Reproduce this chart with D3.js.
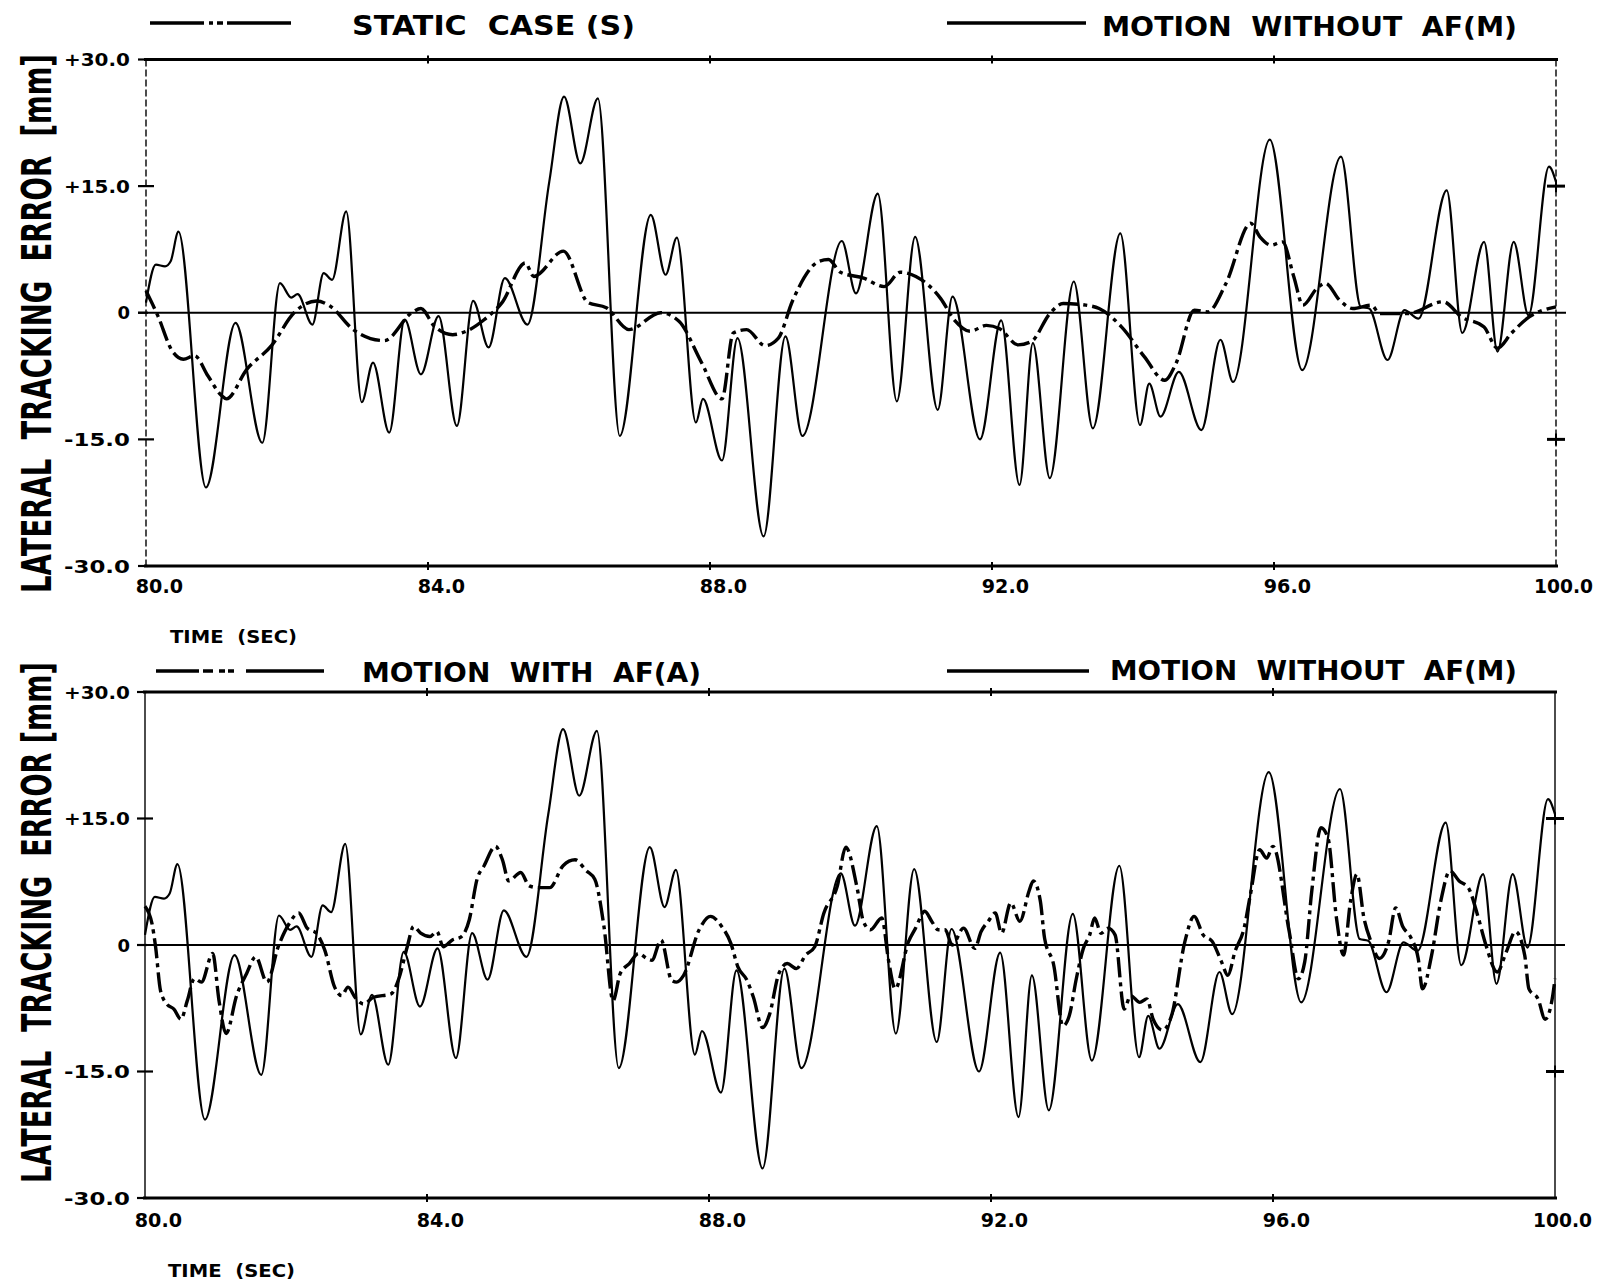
<!DOCTYPE html>
<html>
<head>
<meta charset="utf-8">
<script src="https://cdn.jsdelivr.net/npm/d3@7"></script>
<style>
  html, body { margin: 0; padding: 0; background: #fff; }
  text { font-family: "DejaVu Sans", "Liberation Sans", sans-serif; font-weight: 700; fill: #000; white-space: pre; }
</style>
</head>
<body>
<svg id="chart" width="1609" height="1282"></svg>
<script>
// tick labels
var timeTicks = [80, 84, 88, 92, 96, 100];
var timeLabels = ['80.0', '84.0', '88.0', '92.0', '96.0', '100.0'];
var errTicks = [30, 15, 0, -15, -30];
var errLabels = ['+30.0', '+15.0', '0', '-15.0', '-30.0'];

// motion without AF (M) - solid, same run in both panels
var mTime = [80.00, 80.14, 80.27, 80.35, 80.46, 80.85, 81.27, 81.65, 81.90, 82.06, 82.15, 82.36, 82.52, 82.64, 82.84,
  83.06, 83.22, 83.45, 83.67, 83.90, 84.15, 84.41, 84.64, 84.86, 85.09, 85.41, 85.72, 85.93, 86.16, 86.41,
  86.72, 87.16, 87.37, 87.53, 87.80, 87.90, 88.17, 88.39, 88.76, 89.07, 89.31, 89.87, 90.07, 90.38, 90.65,
  90.91, 91.23, 91.44, 91.83, 92.13, 92.39, 92.58, 92.82, 93.16, 93.43, 93.82, 94.10, 94.23, 94.39, 94.65,
  94.97, 95.24, 95.42, 95.94, 96.40, 96.95, 97.23, 97.35, 97.61, 97.85, 98.05, 98.45, 98.67, 98.98, 99.17,
  99.40, 99.61, 99.90, 100.0];
var mErr = [1.2, 5.7, 5.5, 6.1, 9.6, -20.7, -1.2, -15.4, 3.5, 1.8, 2.2, -1.4, 4.7, 3.9, 12.0,
  -10.6, -5.9, -14.2, -0.8, -7.3, -0.4, -13.4, 1.4, -4.1, 4.1, -1.4, 15.5, 25.6, 17.7, 25.4,
  -14.6, 11.6, 4.5, 8.9, -13.0, -10.2, -17.5, -3.0, -26.5, -2.8, -14.6, 8.5, 2.3, 14.1, -10.5,
  9.0, -11.5, 1.9, -15.0, -0.9, -20.4, -3.6, -19.6, 3.7, -13.7, 9.4, -13.3, -8.4, -12.3, -7.0,
  -13.9, -3.2, -8.2, 20.5, -6.8, 18.5, 0.7, 0.5, -5.6, 0.3, -0.7, 14.5, -2.4, 8.4, -4.6,
  8.4, -0.3, 17.3, 15.5];

// static case (S) - dashed, top panel
var sTime = [80.00, 80.17, 80.37, 80.53, 80.69, 80.88, 81.07, 81.14, 81.43, 81.78, 82.10, 82.42, 82.61, 82.94, 83.38,
  83.77, 83.90, 84.09, 84.35, 84.54, 84.80, 85.05, 85.38, 85.50, 85.92, 86.27, 86.53, 86.85, 87.30, 87.56,
  87.88, 88.17, 88.33, 88.52, 88.78, 88.97, 89.17, 89.55, 89.68, 89.85, 90.18, 90.47, 90.70, 90.92, 91.27,
  91.47, 91.69, 91.92, 92.11, 92.37, 92.56, 92.82, 93.01, 93.33, 93.52, 93.84, 94.16, 94.45, 94.61, 94.87,
  95.06, 95.32, 95.67, 95.80, 95.96, 96.12, 96.28, 96.41, 96.61, 96.73, 96.93, 97.12, 97.38, 97.50, 97.89,
  98.40, 98.66, 98.98, 99.17, 99.37, 99.62, 100.0];
var sErr = [2.6, -0.4, -4.5, -5.5, -5.1, -7.5, -9.8, -10.2, -6.7, -3.9, 0.0, 1.4, 0.8, -2.0, -3.3,
  0.0, 0.5, -1.6, -2.6, -2.2, -0.8, 1.2, 5.9, 4.3, 7.3, 1.2, 0.6, -2.0, 0.0, -1.0,
  -5.9, -10.2, -2.4, -2.0, -3.9, -3.0, 1.4, 6.1, 6.3, 4.8, 4.1, 3.1, 4.8, 4.3, 1.7,
  -0.9, -2.2, -1.5, -1.9, -3.8, -3.4, -0.1, 1.1, 0.9, 0.5, -1.7, -5.2, -8.0, -6.0, 0.3,
  0.1, 3.5, 10.6, 9.0, 8.0, 8.4, 4.3, 0.9, 2.9, 3.5, 1.5, 0.5, 0.9, -0.1, -0.1,
  1.3, -0.5, -1.7, -4.2, -2.4, -0.5, 0.7];

// motion with AF (A) - dashed, bottom panel
var aTime = [80.00, 80.10, 80.15, 80.22, 80.31, 80.41, 80.51, 80.60, 80.70, 80.80, 80.96, 81.05, 81.15, 81.30, 81.44,
  81.57, 81.73, 81.89, 82.05, 82.18, 82.30, 82.43, 82.55, 82.69, 82.79, 82.88, 82.98, 83.10, 83.24, 83.49,
  83.60, 83.72, 83.81, 83.91, 84.04, 84.14, 84.23, 84.36, 84.49, 84.60, 84.71, 84.81, 84.97, 85.07, 85.16,
  85.33, 85.45, 85.58, 85.74, 85.93, 86.10, 86.26, 86.38, 86.51, 86.64, 86.74, 86.87, 87.00, 87.12, 87.19,
  87.32, 87.47, 87.54, 87.64, 87.86, 88.02, 88.18, 88.31, 88.41, 88.54, 88.63, 88.76, 88.86, 88.99, 89.11,
  89.24, 89.37, 89.50, 89.63, 89.82, 89.94, 90.10, 90.19, 90.29, 90.45, 90.55, 90.64, 90.83, 90.93, 91.06,
  91.16, 91.25, 91.35, 91.45, 91.61, 91.77, 91.86, 91.96, 92.06, 92.15, 92.28, 92.41, 92.54, 92.60, 92.70,
  92.76, 92.89, 93.02, 93.11, 93.21, 93.31, 93.40, 93.47, 93.56, 93.66, 93.76, 93.89, 93.98, 94.11, 94.21,
  94.30, 94.43, 94.56, 94.75, 94.88, 95.01, 95.14, 95.27, 95.36, 95.46, 95.59, 95.68, 95.81, 95.91, 96.00,
  96.23, 96.36, 96.45, 96.55, 96.68, 96.78, 96.90, 97.00, 97.10, 97.19, 97.29, 97.39, 97.51, 97.64, 97.74,
  97.84, 97.96, 98.06, 98.12, 98.25, 98.38, 98.51, 98.64, 98.77, 98.90, 99.02, 99.18, 99.31, 99.44, 99.57,
  99.63, 99.76, 99.86, 99.96, 100.0];
var aErr = [4.6, 2.5, -0.2, -5.4, -7.0, -7.6, -8.8, -6.6, -4.0, -4.4, -1.0, -6.6, -10.5, -6.0, -3.4,
  -1.4, -4.4, -0.2, 2.6, 3.8, 2.0, 1.4, -0.6, -5.0, -6.0, -5.0, -6.2, -7.0, -6.2, -5.8,
  -4.0, -0.2, 2.2, 1.4, 1.0, 1.6, -0.2, 0.6, 1.0, 3.0, 7.8, 9.4, 11.7, 10.1, 7.6,
  8.6, 7.0, 6.8, 6.8, 9.4, 10.1, 8.8, 7.8, 2.2, -6.6, -3.4, -2.2, -1.0, -1.6, -1.8,
  0.6, -4.2, -4.4, -3.6, 1.8, 3.4, 2.2, 0.2, -2.6, -4.2, -6.2, -9.8, -8.2, -3.4, -2.2,
  -2.8, -1.2, -0.2, 3.8, 7.0, 11.6, 6.8, 2.8, 1.8, 3.2, -2.0, -5.2, 0.4, 2.0, 4.0,
  2.8, 1.8, 1.8, 0.0, 2.0, -0.4, 1.6, 2.8, 3.8, 1.4, 5.0, 2.8, 6.4, 7.6, 5.2,
  0.8, -2.4, -9.6, -8.4, -4.0, -0.4, 1.2, 3.2, 1.4, 2.0, 1.2, -7.6, -6.0, -6.8, -6.4,
  -8.8, -10.1, -8.4, 0.4, 3.4, 1.2, 0.4, -2.0, -3.6, -0.8, 2.0, 6.0, 11.3, 10.3, 11.7,
  1.6, -4.0, -2.0, 6.4, 13.9, 12.7, 3.2, -1.2, 5.2, 8.4, 3.2, 0.4, -1.6, 0.4, 4.4,
  2.2, 0.8, -1.6, -5.2, -1.2, 5.2, 8.8, 7.6, 6.8, 3.6, 0.0, -3.2, -0.8, 1.6, -1.2,
  -5.2, -6.4, -8.8, -6.4, -4.0];

var svg = d3.select('#chart');
svg.append('rect').attr('width', 1609).attr('height', 1282).attr('fill', '#fff');

function label(g, str, x, y, size, len, anchor) {
  var t = g.append('text').attr('x', x).attr('y', y).attr('font-size', size)
    .attr('text-anchor', anchor || 'start').text(str);
  if (len) t.attr('textLength', len).attr('lengthAdjust', 'spacingAndGlyphs');
  return t;
}

var panels = [
  { left: 146, right: 1556, top: 59.5, bottom: 566, frameDash: '7,3',
    dashT: sTime, dashV: sErr, dashName: 'STATIC  CASE (S)',
    leg: { y: 23, dashX: [150, 291], dashPattern: '54,5,4,4,6,4,70', textX: 352, textLen: 283, textY: 35,
           solidX: [947, 1086], solidTextX: 1102, solidLen: 415, solidY: 36 },
    timeY: 593, timeTitleY: 643, timeTitleX: 170,
    yTitle: 'LATERAL  TRACKING  ERROR  [mm]', yTitleFrom: 593, yTitleTo: 54 },
  { left: 145, right: 1555, top: 692, bottom: 1198, frameDash: null,
    dashT: aTime, dashV: aErr, dashName: 'MOTION  WITH  AF(A)',
    leg: { y: 671, dashX: [156, 324], dashPattern: '43,4,10,6,6,3,6,12,90', textX: 362, textLen: 339, textY: 682,
           solidX: [947, 1089], solidTextX: 1110, solidLen: 407, solidY: 680 },
    timeY: 1227, timeTitleY: 1277, timeTitleX: 168,
    yTitle: 'LATERAL  TRACKING  ERROR [mm]', yTitleFrom: 1183, yTitleTo: 662 }
];

panels.forEach(function (p) {
  var g = svg.append('g');
  var x = d3.scaleLinear().domain([80, 100]).range([p.left, p.right]);
  var y = d3.scaleLinear().domain([-30, 30]).range([p.bottom, p.top]);

  // frame
  g.append('line').attr('x1', p.left - 2).attr('x2', p.right + 2).attr('y1', p.top).attr('y2', p.top)
    .attr('stroke', '#000').attr('stroke-width', 3);
  g.append('line').attr('x1', p.left - 2).attr('x2', p.right + 2).attr('y1', p.bottom).attr('y2', p.bottom)
    .attr('stroke', '#000').attr('stroke-width', 3.2);
  [p.left, p.right].forEach(function (xx) {
    g.append('line').attr('x1', xx).attr('x2', xx).attr('y1', p.top).attr('y2', p.bottom)
      .attr('stroke', '#000').attr('stroke-width', 1.4)
      .attr('stroke-dasharray', p.frameDash);
  });

  // zero line
  g.append('line').attr('x1', p.left - 8).attr('x2', p.right + 10).attr('y1', y(0)).attr('y2', y(0))
    .attr('stroke', '#000').attr('stroke-width', 2);

  // time ticks on top and bottom border
  timeTicks.slice(1, -1).forEach(function (t) {
    [p.top, p.bottom].forEach(function (yy) {
      g.append('line').attr('x1', x(t)).attr('x2', x(t)).attr('y1', yy - 4).attr('y2', yy + 4)
        .attr('stroke', '#000').attr('stroke-width', 2);
    });
  });

  // error ticks on left, and on right at +/-15
  errTicks.forEach(function (v, i) {
    g.append('line').attr('x1', p.left - 8).attr('x2', p.left + (Math.abs(v) === 15 ? 8 : 2))
      .attr('y1', y(v)).attr('y2', y(v)).attr('stroke', '#000').attr('stroke-width', 2.2);
    var lbl = errLabels[i];
    label(g, lbl, 130, y(v) + 6.5, 18, lbl.length > 1 ? 66 : null, 'end');
    if (Math.abs(v) === 15) {
      g.append('line').attr('x1', p.right - 9).attr('x2', p.right + 9).attr('y1', y(v)).attr('y2', y(v))
        .attr('stroke', '#000').attr('stroke-width', 3);
      g.append('line').attr('x1', p.right).attr('x2', p.right).attr('y1', y(v) - 6).attr('y2', y(v) + 6)
        .attr('stroke', '#000').attr('stroke-width', 2);
    }
  });

  // time labels
  timeTicks.forEach(function (t, i) {
    label(g, timeLabels[i], x(t) + 37, p.timeY, 20, timeLabels[i].length * 11.8, 'end');
  });
  label(g, 'TIME  (SEC)', p.timeTitleX, p.timeTitleY, 17, 127);

  // y title: squeeze with a scale so its box stays where it is drawn
  var mid = (p.yTitleFrom + p.yTitleTo) / 2;
  var yt = g.append('text').attr('text-anchor', 'middle').attr('font-size', 40).text(p.yTitle);
  var natural = yt.node().getComputedTextLength();
  var sx = (p.yTitleFrom - p.yTitleTo) / natural;
  yt.attr('transform', 'translate(51,' + mid + ') rotate(-90) scale(' + sx + ',1)');

  // legend
  var L = p.leg;
  g.append('line').attr('x1', L.dashX[0]).attr('x2', L.dashX[1]).attr('y1', L.y).attr('y2', L.y)
    .attr('stroke', '#000').attr('stroke-width', 3.4).attr('stroke-dasharray', L.dashPattern);
  label(g, p.dashName, L.textX, L.textY, 27, L.textLen);
  g.append('line').attr('x1', L.solidX[0]).attr('x2', L.solidX[1]).attr('y1', L.y).attr('y2', L.y)
    .attr('stroke', '#000').attr('stroke-width', 3.4);
  label(g, 'MOTION  WITHOUT  AF(M)', L.solidTextX, L.solidY, 27, L.solidLen);

  // curves
  var line = d3.line().x(function (d) { return x(d[0]); }).y(function (d) { return y(d[1]); })
    .curve(d3.curveMonotoneX);
  g.append('path').datum(d3.zip(p.dashT, p.dashV)).attr('d', line)
    .attr('fill', 'none').attr('stroke', '#000').attr('stroke-width', 3.4)
    .attr('stroke-dasharray', '20,5,4,5');
  g.append('path').datum(d3.zip(mTime, mErr)).attr('d', line)
    .attr('fill', 'none').attr('stroke', '#000').attr('stroke-width', 2.2)
    .attr('stroke-linejoin', 'round');
});
</script>
</body>
</html>
